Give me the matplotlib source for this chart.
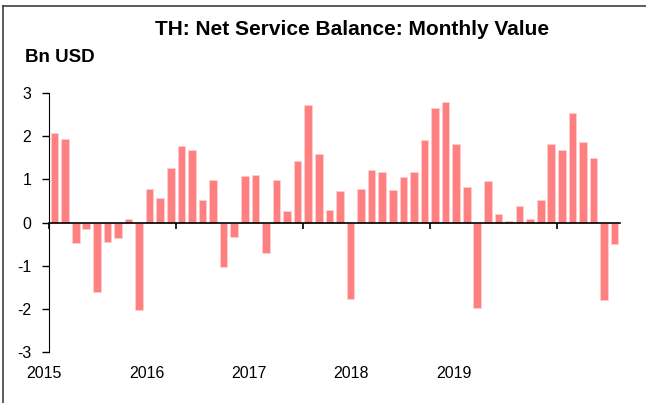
import numpy as np
import matplotlib.pyplot as plt
from matplotlib.lines import Line2D

plt.rcParams['font.family'] = ['Liberation Sans', 'DejaVu Sans']

# monthly net service balance, Jan 2015 - Jun 2019 (Bn USD)
values = [2.07, 1.94, -0.47, -0.16, -1.60, -0.46, -0.35, 0.09, -2.02, 0.77, 0.57, 1.26,
          1.77, 1.67, 0.53, 0.98, -1.02, -0.34, 1.08, 1.11, -0.70, 0.98, 0.27, 1.43,
          2.73, 1.60, 0.29, 0.73, -1.78, 0.78, 1.22, 1.18, 0.75, 1.05, 1.16, 1.91,
          2.66, 2.79, 1.82, 0.82, -1.97, 0.96, 0.19, 0.03, 0.39, 0.08, 0.52, 1.83,
          1.67, 2.54, 1.87, 1.50, -1.79, -0.49]
years = ['2015', '2016', '2017', '2018', '2019']
yticks = [-3, -2, -1, 0, 1, 2, 3]

fig = plt.figure(figsize=(6.46, 4.03), dpi=100)
ax = fig.add_axes([0.0763, 0.1266, 0.8834, 0.6424])

x = np.arange(len(values)) + 0.5
ax.bar(x, values, width=0.72, color='#ff8080', edgecolor='#ffd0d0', linewidth=0.5)

ax.set_xlim(0, len(values))
ax.set_ylim(-3, 3)
ax.set_yticks(yticks)
ax.set_yticklabels([str(v) for v in yticks])
ax.tick_params(axis='y', direction='out', length=5, width=1, labelsize=11.5, pad=8)

# x axis sits on zero, year ticks at boundaries
ax.spines['bottom'].set_position(('data', 0))
ax.spines['top'].set_visible(False)
ax.spines['right'].set_visible(False)
ax.spines['left'].set_color('black')
ax.spines['bottom'].set_color('black')
ax.spines['bottom'].set_linewidth(1.2)
ax.set_xticks(np.arange(0, len(values), 12))
ax.tick_params(axis='x', direction='out', length=4, width=1.2, labelbottom=False)

# year labels spaced evenly along the bottom
for i, yr in enumerate(years):
    ax.text(-0.009 + i * 0.1793, -0.055, yr, transform=ax.transAxes,
            ha='center', va='top', fontsize=11.5)

fig.text(0.545, 0.926, 'TH: Net Service Balance: Monthly Value', ha='center', va='center',
         fontsize=15, fontweight='bold')
fig.text(0.038, 0.858, 'Bn USD', ha='left', va='center', fontsize=13.5, fontweight='bold')

# frame lines top and left
fig.add_artist(Line2D([0.005, 1.0], [0.985, 0.985], transform=fig.transFigure, color='#404040', lw=1.2))
fig.add_artist(Line2D([0.005, 0.005], [0.0, 0.985], transform=fig.transFigure, color='#404040', lw=1.2))

fig.savefig('out.png', dpi=100)
